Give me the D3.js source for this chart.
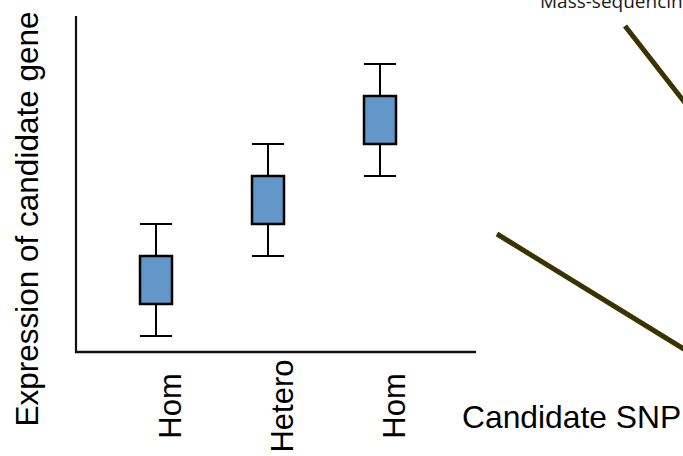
<!DOCTYPE html>
<html>
<head>
<meta charset="utf-8">
<script src="https://cdn.jsdelivr.net/npm/d3@7"></script>
<style>
  html, body { margin: 0; padding: 0; background: #ffffff; overflow: hidden; }
  svg { display: block; }
</style>
</head>
<body>
<script>
var width = 683;
var height = 456;

// genotype groups along the x axis
var categories = ["Hom", "Hetero", "Hom"];
// box plot values per group (arbitrary expression units)
var whiskerLow = [1, 6, 11];
var boxLow = [3, 8, 13];
var boxHigh = [6, 11, 16];
var whiskerHigh = [8, 13, 18];

var boxes = categories.map(function(c, i) {
    return {i: i, name: c, lo: whiskerLow[i], q1: boxLow[i], q3: boxHigh[i], hi: whiskerHigh[i]};
});

var svg = d3.select("body")
    .append("svg")
    .attr("width", width)
    .attr("height", height);

var x = d3.scalePoint()
    .domain(d3.range(categories.length))
    .range([156, 380]);

var y = d3.scaleLinear()
    .domain([0, 21])
    .range([352, 16]);

var boxW = 32;
var font = "Arial, 'Liberation Sans', sans-serif";

// axes (plain lines, no ticks)
svg.append("line")
    .attr("x1", 76).attr("x2", 76)
    .attr("y1", y(21)).attr("y2", y(0) + 1)
    .attr("stroke", "#111").attr("stroke-width", 2.2);
svg.append("line")
    .attr("x1", 75).attr("x2", 476)
    .attr("y1", y(0)).attr("y2", y(0))
    .attr("stroke", "#111").attr("stroke-width", 2.5);

var g = svg.append("g")
    .selectAll("g")
    .data(boxes)
    .enter()
    .append("g");

// whisker stems
g.append("line")
    .attr("x1", function(d) { return x(d.i); })
    .attr("x2", function(d) { return x(d.i); })
    .attr("y1", function(d) { return y(d.hi); })
    .attr("y2", function(d) { return y(d.lo); })
    .attr("stroke", "#000").attr("stroke-width", 2);

// caps
g.selectAll(".cap")
    .data(function(d) { return [{i: d.i, v: d.hi}, {i: d.i, v: d.lo}]; })
    .enter()
    .append("line")
    .attr("class", "cap")
    .attr("x1", function(d) { return x(d.i) - boxW / 2; })
    .attr("x2", function(d) { return x(d.i) + boxW / 2; })
    .attr("y1", function(d) { return y(d.v); })
    .attr("y2", function(d) { return y(d.v); })
    .attr("stroke", "#000").attr("stroke-width", 2);

// boxes
g.append("rect")
    .attr("x", function(d) { return x(d.i) - boxW / 2; })
    .attr("width", boxW)
    .attr("y", function(d) { return y(d.q3); })
    .attr("height", function(d) { return y(d.q1) - y(d.q3); })
    .attr("fill", "#6396c9")
    .attr("stroke", "#000")
    .attr("stroke-width", 2.5);

// rotated category labels
svg.append("g")
    .selectAll("text")
    .data(boxes)
    .enter()
    .append("text")
    .attr("transform", function(d) { return "translate(" + (x(d.i) + 25) + ",406) rotate(-90)"; })
    .attr("text-anchor", "middle")
    .attr("font-family", font)
    .attr("font-size", 31)
    .attr("fill", "#000")
    .text(function(d) { return d.name; });

// y axis title
svg.append("text")
    .attr("transform", "translate(38,219) rotate(-90)")
    .attr("text-anchor", "middle")
    .attr("font-family", font)
    .attr("font-size", 31.5)
    .attr("fill", "#000")
    .text("Expression of candidate gene");

// x axis title
svg.append("text")
    .attr("x", 462)
    .attr("y", 428)
    .attr("font-family", font)
    .attr("font-size", 31.8)
    .attr("fill", "#000")
    .text("Candidate SNP");

// cropped diagram pieces on the right (cut off by the frame, as in the source)
svg.append("text")
    .attr("x", 540)
    .attr("y", 8)
    .attr("font-family", "'Open Sans', sans-serif")
    .attr("font-size", 19)
    .attr("fill", "#1a1a1a")
    .text("Mass-sequencing");

svg.append("line")
    .attr("x1", 625).attr("y1", 26)
    .attr("x2", 700).attr("y2", 122)
    .attr("stroke", "#3a3300").attr("stroke-width", 5);
svg.append("line")
    .attr("x1", 497).attr("y1", 234)
    .attr("x2", 700).attr("y2", 359)
    .attr("stroke", "#3a3300").attr("stroke-width", 5);
</script>
</body>
</html>
